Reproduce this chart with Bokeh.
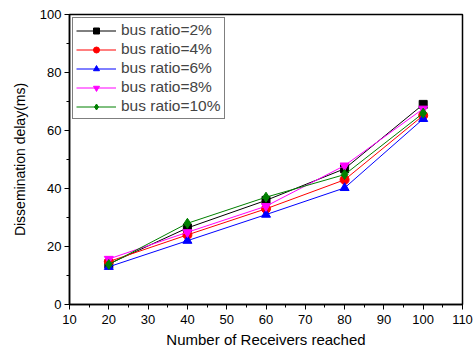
from bokeh.plotting import figure
from bokeh.models import FixedTicker, Range1d, Legend, LegendItem
from bokeh.embed import file_html
from bokeh.resources import INLINE

receivers = [20, 40, 60, 80, 100]
ratio2 = [14.0, 26.4, 35.9, 46.8, 69.0]
ratio4 = [14.8, 24.0, 33.0, 43.0, 65.2]
ratio6 = [13.0, 22.0, 31.0, 40.2, 64.0]
ratio8 = [15.7, 24.9, 33.9, 47.9, 67.5]
ratio10 = [13.8, 28.0, 37.0, 44.8, 66.0]
labels = ["bus ratio=2%", "bus ratio=4%", "bus ratio=6%", "bus ratio=8%", "bus ratio=10%"]
series = [ratio2, ratio4, ratio6, ratio8, ratio10]
colors = ["black", "red", "blue", "#FF00FF", "#008000"]
markers = ["square", "circle", "triangle", "inverted_triangle", "diamond"]
sizes = [8, 9, 9, 9, 10]

p = figure(width=476, height=351, output_backend="svg", toolbar_location=None,
           x_range=Range1d(10, 110), y_range=Range1d(0, 100),
           min_border_left=69, min_border_right=14, min_border_top=14, min_border_bottom=47)
p.grid.visible = False
p.outline_line_color = "black"
p.outline_line_width = 1.5
p.background_fill_color = "white"
p.border_fill_color = "white"

items = []
for lab, ys, c, m, s in zip(labels, series, colors, markers, sizes):
    r1 = p.line(receivers, ys, line_color=c, line_width=1)
    r2 = p.scatter(receivers, ys, marker=m, size=s, fill_color=c, line_color=c)
    items.append(LegendItem(label=lab, renderers=[r1, r2]))

legend = Legend(items=items, location="top_left", label_text_font="Liberation Sans",
                label_text_font_size="15.5px", label_height=15, spacing=1, padding=3,
                glyph_width=40, glyph_height=15, label_standoff=5, margin=3,
                border_line_color="black", border_line_width=1)
p.add_layout(legend)

p.xaxis.ticker = FixedTicker(ticks=list(range(10, 111, 10)), minor_ticks=list(range(15, 110, 10)))
p.yaxis.ticker = FixedTicker(ticks=list(range(0, 101, 20)), minor_ticks=list(range(10, 100, 20)))

for ax in (p.xaxis, p.yaxis):
    ax.axis_line_width = 1.5
    ax.axis_line_color = "black"
    ax.major_tick_out = 5
    ax.major_tick_in = 0
    ax.minor_tick_out = 3
    ax.minor_tick_in = 0
    ax.major_tick_line_width = 1
    ax.minor_tick_line_width = 1
    ax.major_label_text_font = "Liberation Sans"
    ax.major_label_text_font_size = "13px"
    ax.major_label_text_color = "black"
    ax.axis_label_text_font = "Liberation Sans"
    ax.axis_label_text_font_style = "normal"
    ax.axis_label_text_color = "black"

p.xaxis.axis_label_text_font_size = "15px"
p.yaxis.axis_label_text_font_size = "14px"
p.xaxis.axis_label = "Number of Receivers reached"
p.yaxis.axis_label = "Dissemination delay(ms)"
p.xaxis.major_label_standoff = 5
p.yaxis.major_label_standoff = 3
p.xaxis.axis_label_standoff = 4
p.yaxis.axis_label_standoff = 9

open("out.html", "w").write(file_html(p, INLINE))
